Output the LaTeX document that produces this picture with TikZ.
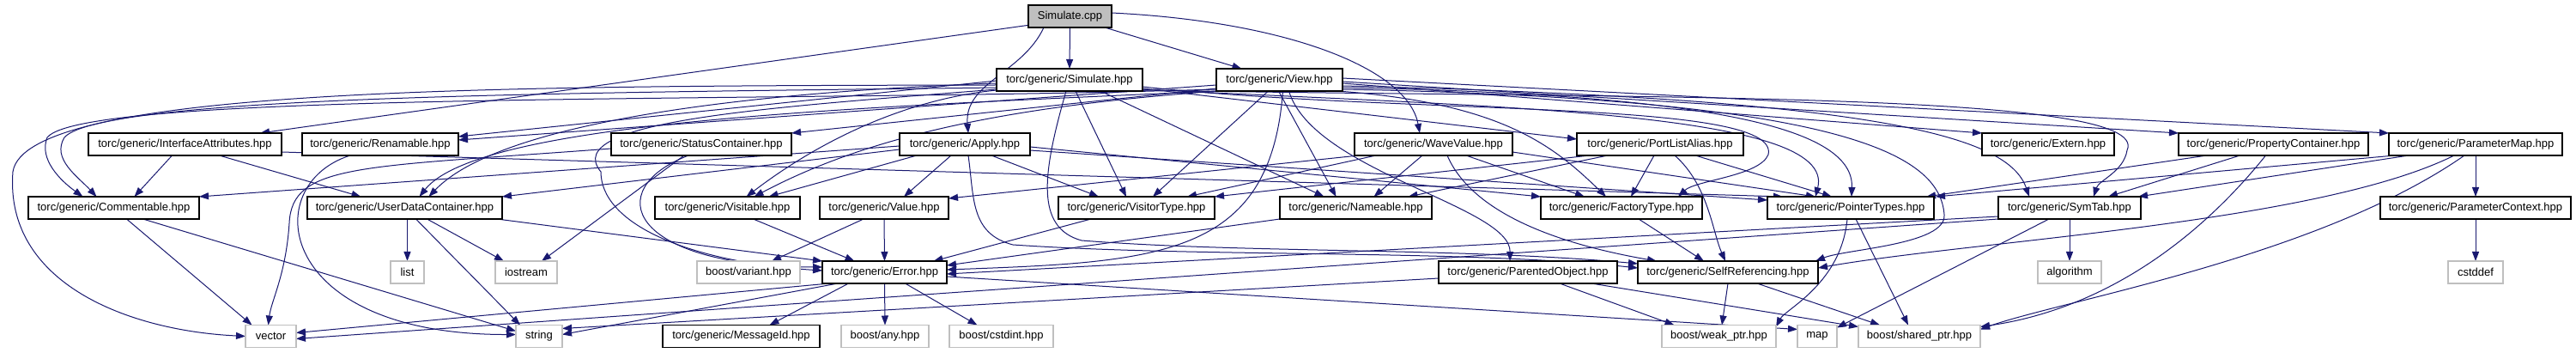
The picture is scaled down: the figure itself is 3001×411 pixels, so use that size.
\documentclass[tikz,border=0pt]{standalone}
\usepackage{fontspec}
\setmainfont{Liberation Sans}
\usetikzlibrary{arrows.meta}
\definecolor{edgec}{HTML}{191970}
\definecolor{greyc}{HTML}{BFBFBF}
\pgfdeclarelayer{bottom}
\pgfdeclarelayer{background}
\pgfsetlayers{bottom,background,main}
\begin{document}
\begin{tikzpicture}[x=1pt,y=1pt,
  hdr/.style={draw=black, line width=1.3pt, fill=white, inner sep=0pt, outer sep=0pt, minimum height=26pt, font=\fontsize{13}{15}\selectfont},
  sys/.style={hdr, draw=greyc},
  root/.style={hdr, fill=greyc},
  edge/.style={draw=edgec, line width=1pt, -{Triangle[length=11pt,width=8pt]}}]
\begin{pgfonlayer}{bottom}
\fill[white] (0,0) rectangle (3001,-411);
\end{pgfonlayer}
\useasboundingbox (0,0) rectangle (3001,-411);
% row A/B
\node[root, minimum width=97pt] (scpp) at (1246.5,-19) {Simulate.cpp};
\node[hdr, minimum width=170pt] (shpp) at (1246,-93) {torc/generic/Simulate.hpp};
\node[hdr, minimum width=147pt] (view) at (1490.5,-93) {torc/generic/View.hpp};
% row C
\node[hdr, minimum width=225pt] (IA) at (215.5,-168) {torc/generic/InterfaceAttributes.hpp};
\node[hdr, minimum width=182pt] (ren) at (443,-168) {torc/generic/Renamable.hpp};
\node[hdr, minimum width=210pt] (sc) at (817,-168) {torc/generic/StatusContainer.hpp};
\node[hdr, minimum width=152pt] (app) at (1124,-168) {torc/generic/Apply.hpp};
\node[hdr, minimum width=184pt] (wave) at (1670,-168) {torc/generic/WaveValue.hpp};
\node[hdr, minimum width=194pt] (pla) at (1934,-168) {torc/generic/PortListAlias.hpp};
\node[hdr, minimum width=154pt] (ext) at (2386,-168) {torc/generic/Extern.hpp};
\node[hdr, minimum width=221pt] (prop) at (2648.5,-168) {torc/generic/PropertyContainer.hpp};
\node[hdr, minimum width=202pt] (pmap) at (2884,-168) {torc/generic/ParameterMap.hpp};
% row D
\node[hdr, minimum width=199pt] (comm) at (132.5,-242) {torc/generic/Commentable.hpp};
\node[hdr, minimum width=227pt] (udc) at (471.5,-242) {torc/generic/UserDataContainer.hpp};
\node[hdr, minimum width=169pt] (vis) at (847.5,-242) {torc/generic/Visitable.hpp};
\node[hdr, minimum width=150pt] (val) at (1030,-242) {torc/generic/Value.hpp};
\node[hdr, minimum width=182pt] (vtype) at (1324,-242) {torc/generic/VisitorType.hpp};
\node[hdr, minimum width=177pt] (name) at (1579.5,-242) {torc/generic/Nameable.hpp};
\node[hdr, minimum width=188pt] (fact) at (1889,-242) {torc/generic/FactoryType.hpp};
\node[hdr, minimum width=194pt] (ptr) at (2156,-242) {torc/generic/PointerTypes.hpp};
\node[hdr, minimum width=166pt] (sym) at (2411,-242) {torc/generic/SymTab.hpp};
\node[hdr, minimum width=222pt] (ctx) at (2884,-242) {torc/generic/ParameterContext.hpp};
% row E
\node[sys, minimum width=39pt] (list) at (474.5,-317) {list};
\node[sys, minimum width=72pt] (ios) at (613,-317) {iostream};
\node[sys, minimum width=120pt] (var) at (872,-317) {boost/variant.hpp};
\node[hdr, minimum width=145pt] (err) at (1030.5,-317) {torc/generic/Error.hpp};
\node[hdr, minimum width=208pt] (par) at (1780,-317) {torc/generic/ParentedObject.hpp};
\node[hdr, minimum width=210pt] (self) at (2013,-317) {torc/generic/SelfReferencing.hpp};
\node[sys, minimum width=74pt] (alg) at (2411,-317) {algorithm};
\node[sys, minimum width=64pt] (cstddef) at (2884,-317) {cstddef};
% row F
\node[sys, minimum width=59pt] (vec) at (315.5,-391.5) {vector};
\node[sys, minimum width=54pt] (str) at (628,-391.5) {string};
\node[hdr, minimum width=183pt] (msg) at (863.5,-391.5) {torc/generic/MessageId.hpp};
\node[sys, minimum width=102pt] (any) at (1031,-391.5) {boost/any.hpp};
\node[sys, minimum width=121pt] (cstdint) at (1166.5,-391.5) {boost/cstdint.hpp};
\node[sys, minimum width=133pt] (weak) at (2002.5,-391.5) {boost/weak\_ptr.hpp};
\node[sys, minimum width=46pt] (map) at (2117,-391.5) {map};
\node[sys, minimum width=142pt] (shared) at (2236,-391.5) {boost/shared\_ptr.hpp};

\begin{pgfonlayer}{background}
% Simulate.cpp
\draw[edge] (scpp.192) -- ([xshift=-25pt]IA.north east);
\draw[edge] (scpp.south) -- (shpp.north);
\draw[edge] ([xshift=-8pt]scpp.south east) -- ([xshift=-44pt]view.north);
\draw[edge] ([xshift=18pt]scpp.south west) to[out=-115,in=95] ([xshift=4pt]app.north);
\draw[edge] ([yshift=4pt]scpp.east) .. controls (1500,-25) and (1640,-80) .. ([xshift=-16pt]wave.north);
% Simulate.hpp
\draw[edge] ([yshift=-1pt]shpp.west) -- ([yshift=9pt]ren.east);
\draw[edge] ([yshift=4pt]shpp.south west) .. controls (700,-108) and (120,-110) .. (75,-160) .. controls (60,-185) and (90,-205) .. ([xshift=-20pt]comm.north);
\draw[edge] ([yshift=-4pt]shpp.west) .. controls (850,-108) and (580,-145) .. ([xshift=28pt]udc.north);
\draw[edge] ([yshift=1pt]shpp.south west) .. controls (1060,-115) and (960,-160) .. ([xshift=22pt]vis.north);
\draw[edge] ([xshift=7pt]shpp.south) -- ([xshift=-12pt]vtype.north);
\draw[edge] ([xshift=36pt]shpp.south) -- ([xshift=-37pt]name.north);
\draw[edge] ([xshift=-4pt]shpp.south) .. controls (1215,-200) and (1205,-265) .. (1260,-280) .. controls (1450,-295) and (1700,-288) .. ([yshift=10pt]self.west);
\draw[edge] ([yshift=3pt]shpp.south east) -- ([yshift=6pt]pla.west);
\draw[edge] ([yshift=5pt]shpp.south east) .. controls (1650,-135) and (2075,-115) .. (2060,-180) .. controls (2050,-205) and (1975,-210) .. ([xshift=66pt]fact.north);
\draw[edge] ([yshift=2pt]shpp.south east) .. controls (1750,-125) and (2140,-130) .. ([xshift=-41pt]ptr.north);
\draw[edge] ([yshift=1pt]shpp.south east) .. controls (1900,-115) and (2510,-105) .. (2478,-175) .. controls (2474,-200) and (2445,-210) .. ([xshift=28pt]sym.north);
\draw[edge] ([yshift=2pt]shpp.south west) .. controls (900,-125) and (650,-140) .. (700,-200) .. controls (700,-260) and (800,-305) .. ([yshift=2pt]err.west);
\draw[edge] ([yshift=7pt]shpp.south west) .. controls (600,-100) and (30,-100) .. (15,-200) .. controls (5,-330) and (150,-385) .. (vec.west);
% View.hpp
\draw[edge] ([yshift=-6pt]view.west) -- ([yshift=5pt]ren.east);
\draw[edge] ([yshift=3pt]view.south west) -- (sc.north east);
\draw[edge] ([yshift=2pt]view.south west) .. controls (900,-120) and (100,-105) .. (55,-160) .. controls (45,-185) and (70,-210) .. ([xshift=-36pt]comm.north);
\draw[edge] (view.south west) .. controls (1000,-125) and (560,-140) .. ([xshift=17pt]udc.north);
\draw[edge] ([xshift=3pt]view.south west) .. controls (1150,-125) and (1000,-165) .. ([xshift=31pt]vis.north);
\draw[edge] ([xshift=-13pt]view.south) -- ([xshift=19pt]vtype.north);
\draw[edge] ([xshift=-1pt]view.south) -- ([xshift=-23pt]name.north);
\draw[edge] ([xshift=4pt]view.south) .. controls (1480,-300) and (1350,-305) .. ([yshift=3pt]err.east);
\draw[edge] ([xshift=11pt]view.south) .. controls (1530,-200) and (1760,-240) .. ([xshift=-21pt]par.north);
\draw[edge] ([yshift=2pt]view.south east) .. controls (2150,-115) and (2260,-180) .. (2265,-250) .. controls (2268,-285) and (2150,-290) .. ([xshift=-3pt]self.north east);
\draw[edge] ([xshift=-6pt]view.south east) .. controls (1750,-120) and (1810,-170) .. ([xshift=-18pt]fact.north);
\draw[edge] ([yshift=4pt]view.south east) .. controls (2000,-110) and (2160,-150) .. ([xshift=1pt]ptr.north);
\draw[edge] ([yshift=6pt]view.south east) .. controls (2200,-115) and (2340,-160) .. ([xshift=-47pt]sym.north);
\draw[edge] ([yshift=-4pt]view.east) -- (ext.north west);
\draw[edge] ([yshift=-2pt]view.east) -- (prop.north west);
\draw[edge] ([yshift=2pt]view.east) -- (pmap.north west);
% InterfaceAttributes
\draw[edge] ([xshift=-15pt]IA.south) -- ([xshift=24pt]comm.north);
\draw[edge] ([xshift=40pt]IA.south) -- ([xshift=-51pt]udc.north);
\draw[edge] ([yshift=4pt]IA.south east) -- ([xshift=18pt]ptr.north west);
% Apply
\draw[edge] ([yshift=-2pt]app.west) -- (comm.north east);
\draw[edge] ([yshift=-6pt]app.west) -- (udc.north east);
\draw[edge] ([xshift=20pt]app.south west) -- ([xshift=48pt]vis.north);
\draw[edge] ([xshift=-16pt]app.south) -- ([xshift=23pt]val.north);
\draw[edge] ([xshift=31pt]app.south) -- ([xshift=-44pt]vtype.north);
\draw[edge] ([yshift=-3pt]app.east) -- (fact.north west);
\draw[edge] ([yshift=-7pt]app.east) -- ([yshift=-4pt]ptr.north west);
\draw[edge] ([xshift=4pt]app.south) .. controls (1135,-230) and (1130,-272) .. (1180,-285) .. controls (1400,-300) and (1700,-290) .. ([yshift=5pt]self.west);
% WaveValue
\draw[edge] ([xshift=5pt]wave.south west) -- ([yshift=-2pt]val.north east);
\draw[edge] ([xshift=25pt]wave.south west) -- ([xshift=59pt]vtype.north);
\draw[edge] ([xshift=-13pt]wave.south) -- ([xshift=21pt]name.north);
\draw[edge] ([xshift=38pt]wave.south) -- ([xshift=-43pt]fact.north);
\draw[edge] ([xshift=16pt]wave.south) .. controls (1720,-260) and (1850,-290) .. ([xshift=-83pt]self.north);
\draw[edge] ([yshift=4pt]wave.south east) -- ([xshift=-41pt]ptr.north);
% PortListAlias
\draw[edge] ([xshift=15pt]pla.south west) -- (vtype.north east);
\draw[edge] ([xshift=36pt]pla.south west) -- ([xshift=61pt]name.north);
\draw[edge] ([xshift=-7pt]pla.south) -- ([xshift=11pt]fact.north);
\draw[edge] ([xshift=17pt]pla.south) .. controls (1990,-215) and (1995,-270) .. ([xshift=-3pt]self.north);
\draw[edge] ([xshift=41pt]pla.south) -- ([xshift=-22pt]ptr.north);
% PropertyContainer
\draw[edge] ([xshift=33pt]prop.south west) -- ([xshift=88pt]ptr.north);
\draw[edge] ([xshift=-39pt]prop.south) -- ([xshift=45pt]sym.north);
\draw[edge] ([xshift=-9pt]prop.south) .. controls (2560,-280) and (2450,-360) .. ([yshift=-2pt]shared.north east);
% ParameterMap
\draw[edge] (pmap.south) -- (ctx.north);
\draw[edge] ([xshift=7pt]pmap.south west) -- ([xshift=99pt]ptr.north);
\draw[edge] ([xshift=23pt]pmap.south west) -- ([xshift=-3pt]sym.north east);
\draw[edge] ([xshift=-25pt]pmap.south) .. controls (2700,-260) and (2300,-280) .. ([yshift=5pt]self.east);
\draw[edge] ([xshift=-13pt]pmap.south) .. controls (2700,-300) and (2400,-350) .. ([yshift=-5pt]shared.north east);
% SymTab
\draw[edge] (sym.south) -- (alg.north);
\draw[edge] ([xshift=-24pt]sym.south) -- ([yshift=-3pt]map.north east);
\draw[edge] ([yshift=3pt]sym.south west) -- ([yshift=-2pt]err.east);
\draw[edge] (sym.south west) -- ([yshift=-3pt]vec.east);
% UserDataContainer, Commentable, Renamable, StatusContainer
\draw[edge] ([xshift=3pt]udc.south) -- (list.north);
\draw[edge] ([xshift=26pt]udc.south) -- ([xshift=-26pt]ios.north);
\draw[edge] ([xshift=13pt]udc.south) -- ([xshift=-22pt]str.north);
\draw[edge] ([xshift=-6pt]udc.south east) -- (err.north west);
\draw[edge] ([xshift=15pt]comm.south) -- ([xshift=-22pt]vec.north);
\draw[edge] ([xshift=34pt]comm.south) -- ([yshift=6pt]str.west);
\draw[edge] ([xshift=-35pt]ren.south) .. controls (300,-215) and (320,-390) .. ([yshift=2pt]str.west);
\draw[edge] ([xshift=-20pt]sc.south) -- ([xshift=18pt]ios.north);
\draw[edge] ([xshift=-15pt]sc.south) .. controls (700,-220) and (730,-310) .. ([yshift=6pt]err.west);
\draw[edge] ([yshift=-5pt]sc.west) .. controls (420,-195) and (340,-190) .. (337,-260) .. controls (333,-320) and (316,-350) .. ([xshift=-3pt]vec.north);
% row D -> row E
\draw[edge] ([xshift=30pt]vis.south) -- ([xshift=-35pt]err.north);
\draw[edge] (val.south) -- (err.north);
\draw[edge] ([xshift=-24pt]val.south) -- ([xshift=27pt]var.north);
\draw[edge] ([xshift=-53pt]vtype.south) -- ([xshift=57pt]err.north);
\draw[edge] (name.south west) -- ([yshift=8pt]err.east);
\draw[edge] ([xshift=20pt]fact.south) -- ([xshift=-28pt]self.north);
\draw[edge] ([xshift=-4pt]ptr.south) .. controls (2145,-330) and (2080,-360) .. ([yshift=-2pt]weak.north east);
\draw[edge] ([xshift=6pt]ptr.south) -- ([xshift=-13pt]shared.north);
\draw[edge] (ctx.south) -- (cstddef.north);
% row E -> row F
\draw[edge] ([xshift=-42pt]err.south) -- ([xshift=33pt]msg.north);
\draw[edge] (err.south) -- (any.north);
\draw[edge] ([xshift=24pt]err.south) -- ([xshift=-28pt]cstdint.north);
\draw[edge] ([xshift=8pt]err.south west) -- ([yshift=4pt]vec.east);
\draw[edge] ([xshift=18pt]err.south west) -- ([yshift=2pt]str.east);
\draw[edge] ([yshift=-5pt]err.east) -- ([yshift=8pt]map.west);
\draw[edge] ([xshift=37pt]par.south) -- ([xshift=-52pt]weak.north);
\draw[edge] ([xshift=-30pt]par.south east) -- ([yshift=-2pt]shared.north west);
\draw[edge] ([yshift=-7pt]par.west) -- ([yshift=9pt]str.east);
\draw[edge] (self.south) -- ([xshift=3.5pt]weak.north);
\draw[edge] ([xshift=34pt]self.south) -- ([xshift=-46pt]shared.north);
\end{pgfonlayer}
\end{tikzpicture}
\end{document}
